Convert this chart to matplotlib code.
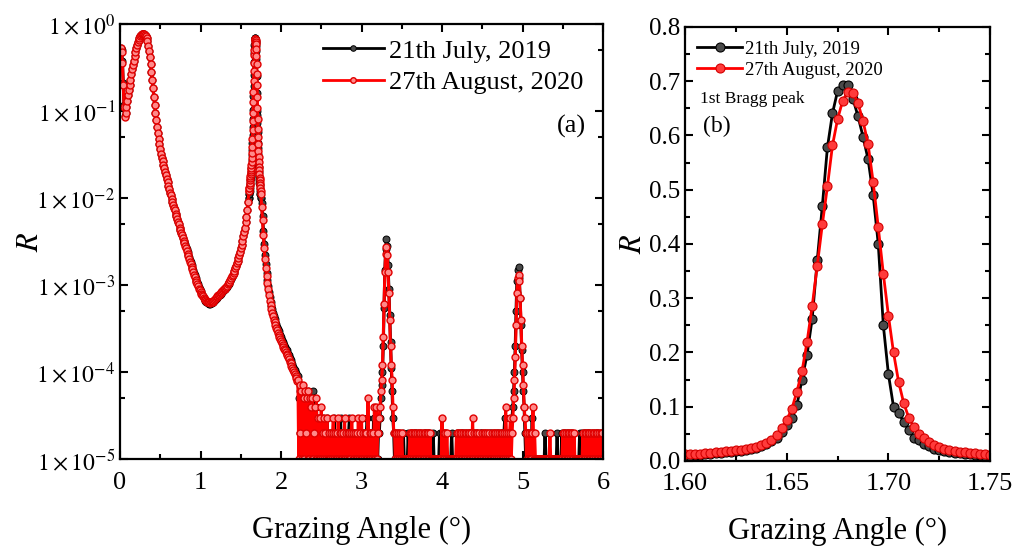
import numpy as np
import matplotlib
matplotlib.use('Agg')
import matplotlib.pyplot as plt
from matplotlib.ticker import MultipleLocator, LogLocator, FuncFormatter, NullFormatter

plt.rcParams['font.family'] = ['Liberation Serif', 'DejaVu Serif']
plt.rcParams['mathtext.fontset'] = 'stix'

labels = ['21th July, 2019', '27th August, 2020']

# ---- low angle part, 0.00 .. 1.59 deg (step 0.01), log10(R)
low_angle = np.round(np.arange(160) * 0.01, 2)
low_log_2020 = [
    -0.30, -0.28, -0.32, -0.45, -0.70, -0.95, -1.07, -1.02, -0.95, -0.88,
    -0.82, -0.76, -0.70, -0.64, -0.58, -0.52, -0.47, -0.42, -0.37, -0.32,
    -0.28, -0.24, -0.21, -0.18, -0.16, -0.14, -0.13, -0.12, -0.115, -0.11,
    -0.115, -0.125, -0.14, -0.16, -0.20, -0.25, -0.31, -0.38, -0.46, -0.55,
    -0.64, -0.74, -0.84, -0.93, -1.02, -1.10, -1.18, -1.25, -1.32, -1.38,
    -1.44, -1.49, -1.54, -1.58, -1.62, -1.66, -1.70, -1.74, -1.78, -1.82,
    -1.86, -1.90, -1.94, -1.97, -2.01, -2.04, -2.08, -2.11, -2.14, -2.18,
    -2.21, -2.24, -2.27, -2.30, -2.34, -2.37, -2.40, -2.43, -2.46, -2.49,
    -2.52, -2.55, -2.58, -2.61, -2.64, -2.67, -2.70, -2.73, -2.76, -2.79,
    -2.82, -2.85, -2.88, -2.91, -2.94, -2.97, -2.99, -3.01, -3.04, -3.06,
    -3.08, -3.10, -3.12, -3.13, -3.15, -3.16, -3.17, -3.18, -3.19, -3.19,
    -3.20, -3.20, -3.21, -3.20, -3.19, -3.19, -3.18, -3.17, -3.16, -3.15,
    -3.14, -3.13, -3.12, -3.11, -3.10, -3.09, -3.08, -3.07, -3.06, -3.05,
    -3.04, -3.03, -3.02, -3.01, -2.99, -2.98, -2.96, -2.94, -2.92, -2.90,
    -2.88, -2.86, -2.84, -2.81, -2.78, -2.75, -2.72, -2.69, -2.65, -2.62,
    -2.58, -2.54, -2.49, -2.44, -2.39, -2.34, -2.28, -2.22, -2.14, -2.04,
]
low_log_2019 = [
    -0.30, -0.27, -0.30, -0.43, -0.68, -0.93, -1.06, -1.02, -0.95, -0.88,
    -0.82, -0.76, -0.70, -0.64, -0.58, -0.52, -0.47, -0.42, -0.37, -0.32,
    -0.28, -0.24, -0.21, -0.18, -0.16, -0.14, -0.13, -0.12, -0.115, -0.11,
    -0.115, -0.125, -0.14, -0.16, -0.20, -0.25, -0.31, -0.38, -0.46, -0.55,
    -0.64, -0.74, -0.84, -0.93, -1.02, -1.10, -1.18, -1.25, -1.32, -1.38,
    -1.44, -1.49, -1.54, -1.58, -1.62, -1.66, -1.70, -1.74, -1.78, -1.82,
    -1.86, -1.90, -1.94, -1.97, -2.01, -2.04, -2.08, -2.11, -2.14, -2.18,
    -2.21, -2.24, -2.27, -2.30, -2.34, -2.37, -2.40, -2.43, -2.46, -2.49,
    -2.50, -2.53, -2.56, -2.59, -2.62, -2.65, -2.68, -2.71, -2.74, -2.77,
    -2.80, -2.83, -2.86, -2.89, -2.92, -2.95, -2.97, -2.99, -3.02, -3.04,
    -3.07, -3.09, -3.11, -3.13, -3.15, -3.17, -3.18, -3.19, -3.20, -3.21,
    -3.21, -3.22, -3.22, -3.21, -3.21, -3.20, -3.19, -3.18, -3.17, -3.16,
    -3.15, -3.14, -3.13, -3.12, -3.11, -3.10, -3.09, -3.08, -3.07, -3.06,
    -3.05, -3.04, -3.03, -3.02, -3.00, -2.99, -2.97, -2.95, -2.93, -2.91,
    -2.88, -2.86, -2.84, -2.81, -2.78, -2.75, -2.72, -2.69, -2.65, -2.62,
    -2.58, -2.54, -2.49, -2.44, -2.39, -2.34, -2.28, -2.22, -2.14, -2.04,
]

# ---- 1st Bragg peak, 1.600 .. 1.750 deg (step 0.0025), R
bragg_angle = np.linspace(1.60, 1.75, 61)
bragg_2020 = [
    0.012, 0.012, 0.013, 0.013, 0.014, 0.015, 0.016, 0.017, 0.018, 0.019,
    0.020, 0.021, 0.022, 0.024, 0.026, 0.029, 0.033, 0.039, 0.048, 0.060,
    0.076, 0.096, 0.128, 0.165, 0.220, 0.285, 0.360, 0.436, 0.506, 0.582,
    0.630, 0.664, 0.680, 0.678, 0.660, 0.627, 0.584, 0.514, 0.431, 0.345,
    0.268, 0.200, 0.146, 0.107, 0.080, 0.062, 0.050, 0.042, 0.035, 0.030,
    0.026, 0.023, 0.021, 0.019, 0.017, 0.016, 0.015, 0.014, 0.013, 0.012,
    0.011,
]
bragg_2019 = [
    0.010, 0.010, 0.011, 0.011, 0.012, 0.013, 0.014, 0.015, 0.016, 0.017,
    0.018, 0.019, 0.020, 0.022, 0.024, 0.027, 0.031, 0.036, 0.043, 0.053,
    0.066, 0.080, 0.103, 0.150, 0.196, 0.262, 0.370, 0.470, 0.578, 0.641,
    0.682, 0.693, 0.693, 0.668, 0.636, 0.598, 0.556, 0.490, 0.400, 0.250,
    0.160, 0.100, 0.089, 0.072, 0.058, 0.043, 0.038, 0.032, 0.027, 0.023,
    0.020, 0.018, 0.016, 0.015, 0.014, 0.013, 0.012, 0.011, 0.011, 0.010,
    0.010,
]

# ---- tail after the peak, 1.76 .. 2.20 deg (step 0.01), log10(R)
tail_angle = np.round(1.76 + np.arange(45) * 0.01, 2)
tail_log_2020 = [
    -2.10, -2.25, -2.42, -2.57, -2.70, -2.80, -2.90, -2.98, -3.05, -3.12,
    -3.18, -3.23, -3.28, -3.32, -3.36, -3.40, -3.43, -3.46, -3.49, -3.52,
    -3.55, -3.57, -3.60, -3.62, -3.64, -3.67, -3.69, -3.71, -3.73, -3.75,
    -3.77, -3.79, -3.81, -3.83, -3.85, -3.88, -3.90, -3.93, -3.95, -3.98,
    -4.00, -4.02, -4.05, -4.07, -4.10,
]
tail_log_2019 = [
    -2.06, -2.21, -2.38, -2.53, -2.66, -2.76, -2.86, -2.94, -3.01, -3.08,
    -3.14, -3.19, -3.24, -3.28, -3.32, -3.36, -3.39, -3.42, -3.45, -3.48,
    -3.51, -3.53, -3.56, -3.58, -3.60, -3.63, -3.65, -3.67, -3.69, -3.71,
    -3.73, -3.75, -3.77, -3.79, -3.81, -3.84, -3.86, -3.89, -3.91, -3.94,
    -3.96, -3.98, -4.01, -4.03, -4.06,
]

# ---- high angle part, 2.21 .. 6.00 deg (step 0.01), counts of 1e-5
high_angle = np.round(2.21 + np.arange(380) * 0.01, 2)
high_counts_2020 = [
    8, 1, 7, 2, 6, 1, 7, 5, 1, 6, 2, 5, 1, 6, 1, 5, 4, 1, 5, 1,              # 2.21
    2, 4, 1, 5, 1, 3, 1, 3, 1, 4, 1, 2, 3, 1, 2, 1, 3, 1, 2, 1,              # 2.41
    1, 2, 1, 2, 3, 1, 2, 1, 2, 1, 3, 1, 2, 1, 2, 1, 2, 1, 3, 1,              # 2.61
    2, 1, 2, 1, 2, 1, 2, 3, 1, 2, 1, 2, 1, 2, 1, 3, 1, 2, 1, 3,              # 2.81
    1, 2, 1, 2, 1, 2, 1, 5, 1, 2, 1, 2, 1, 2, 1, 4, 1, 4, 1, 2,              # 3.01
    2, 3, 4, 6, 8, 12, 25, 60, 140, 230, 270, 220, 140, 80, 40, 20, 12, 8, 4, 2,  # 3.21
    2, 1, 2, 1, 2, 1, 1, 2, 1, 2, 1, 1, 1, 1, 1, 1, 1, 1, 1, 2,              # 3.41
    2, 1, 2, 1, 2, 1, 2, 1, 2, 1, 2, 1, 2, 1, 2, 1, 2, 1, 2, 1,              # 3.61
    2, 1, 2, 1, 2, 1, 1, 1, 1, 1, 1, 1, 1, 1, 1, 1, 1, 1, 1, 3,              # 3.81
    1, 2, 1, 2, 1, 2, 1, 1, 1, 1, 1, 1, 1, 1, 1, 1, 1, 2, 1, 2,              # 4.01
    1, 2, 1, 2, 1, 2, 1, 2, 1, 2, 1, 2, 1, 2, 1, 2, 1, 3, 1, 2,              # 4.21
    1, 2, 1, 2, 1, 2, 1, 1, 1, 2, 1, 2, 1, 2, 1, 2, 1, 2, 1, 1,              # 4.41
    1, 2, 1, 2, 1, 2, 1, 2, 1, 1, 2, 1, 2, 1, 2, 1, 2, 1, 4, 2,              # 4.61
    1, 2, 1, 2, 3, 1, 2, 3, 5, 8, 15, 35, 80, 120, 130, 110, 70, 40, 20, 12,  # 4.81
    7, 4, 3, 2, 1, 2, 1, 2, 1, 2, 1, 2, 4, 1, 2, 1, 1, 1, 1, 1,              # 5.01
    1, 1, 1, 1, 1, 1, 1, 1, 1, 1, 1, 1, 1, 2, 1, 1, 1, 1, 1, 1,              # 5.21
    1, 1, 1, 1, 1, 1, 1, 1, 1, 2, 1, 2, 1, 2, 1, 2, 1, 2, 1, 2,              # 5.41
    1, 2, 1, 2, 1, 1, 1, 1, 1, 1, 1, 1, 1, 1, 2, 1, 2, 1, 2, 1,              # 5.61
    2, 1, 2, 1, 2, 1, 2, 1, 2, 1, 2, 1, 2, 1, 2, 1, 2, 1, 2, 1,              # 5.81
]
high_counts_2019 = [
    9, 5, 2, 6, 7, 1, 5, 6, 2, 4, 5, 4, 2, 6, 3, 1, 4, 3, 2, 6,
    1, 3, 2, 4, 1, 2, 3, 2, 1, 2, 1, 3, 1, 2, 2, 1, 3, 1, 2, 1,
    1, 2, 2, 1, 2, 3, 1, 2, 1, 2, 2, 1, 2, 3, 1, 2, 2, 1, 2, 1,
    2, 2, 1, 2, 3, 1, 2, 1, 2, 1, 2, 1, 2, 2, 1, 2, 1, 2, 1, 2,
    1, 2, 1, 2, 1, 2, 3, 2, 1, 2, 2, 1, 2, 1, 3, 2, 1, 2, 2, 1,
    2, 2, 3, 5, 7, 10, 20, 55, 150, 260, 340, 280, 170, 90, 45, 22, 11, 6, 3, 2,
    1, 1, 1, 2, 1, 1, 2, 1, 1, 1, 1, 2, 1, 1, 1, 1, 1, 2, 1, 1,
    1, 2, 1, 2, 1, 2, 2, 1, 2, 1, 1, 2, 1, 2, 1, 1, 2, 1, 2, 2,
    1, 2, 1, 2, 1, 1, 1, 1, 2, 1, 1, 1, 1, 1, 1, 1, 2, 1, 1, 2,
    1, 2, 1, 1, 2, 1, 1, 1, 1, 1, 1, 2, 1, 1, 1, 1, 1, 1, 2, 1,
    2, 1, 2, 1, 2, 2, 1, 2, 1, 1, 2, 1, 2, 1, 2, 2, 1, 2, 1, 2,
    1, 2, 1, 2, 1, 1, 2, 1, 2, 2, 1, 2, 1, 1, 2, 1, 2, 1, 2, 1,
    2, 1, 2, 1, 1, 2, 1, 2, 2, 1, 1, 2, 1, 2, 2, 1, 2, 3, 1, 2,
    2, 1, 2, 2, 1, 2, 3, 4, 6, 10, 20, 50, 110, 150, 160, 120, 70, 35, 18, 10,
    6, 4, 2, 1, 2, 1, 2, 1, 2, 2, 1, 3, 1, 2, 1, 1, 1, 1, 1, 1,
    1, 1, 1, 1, 1, 1, 1, 2, 1, 1, 1, 1, 1, 1, 1, 1, 1, 1, 1, 1,
    1, 1, 2, 1, 1, 1, 1, 1, 2, 1, 2, 1, 2, 1, 2, 1, 2, 1, 2, 1,
    1, 2, 1, 1, 1, 1, 1, 1, 1, 1, 2, 1, 1, 2, 1, 2, 1, 2, 1, 2,
    2, 1, 2, 1, 2, 1, 1, 2, 1, 2, 1, 2, 2, 1, 2, 1, 2, 1, 2, 1,
]


def full_curve(low_log, bragg, tail_log, counts):
    x = np.concatenate([low_angle, bragg_angle, tail_angle, high_angle])
    r = np.concatenate([10.0 ** np.array(low_log), np.array(bragg),
                        10.0 ** np.array(tail_log), np.array(counts) * 1e-5])
    return x, r


x19, r19 = full_curve(low_log_2019, bragg_2019, tail_log_2019, high_counts_2019)
x20, r20 = full_curve(low_log_2020, bragg_2020, tail_log_2020, high_counts_2020)

fig = plt.figure(figsize=(10.24, 5.46), dpi=100)
ax1 = fig.add_axes([0.1172, 0.1593, 0.4717, 0.7967])
ax2 = fig.add_axes([0.669, 0.1557, 0.2979, 0.7949])

black_style = dict(color='black', marker='o', mfc='#4a4a4a', mec='black')
red_style = dict(color='red', marker='o', mfc='#ff8a8a', mec='#e00000')

# (a) full scan, log scale
ax1.plot(x19, r19, lw=2.2, ms=5, mew=0.7, label=labels[0], **black_style)
ax1.plot(x20, r20, lw=2.2, ms=5, mew=1.0, label=labels[1], **red_style)
ax1.set_yscale('log')
ax1.set_xlim(0, 6)
ax1.set_ylim(1e-5, 1)
ax1.xaxis.set_major_locator(MultipleLocator(1))
ax1.xaxis.set_minor_locator(MultipleLocator(0.5))
ax1.yaxis.set_major_locator(LogLocator(base=10, numticks=10))
ax1.yaxis.set_minor_locator(LogLocator(base=10, subs=[5], numticks=10))
ax1.yaxis.set_minor_formatter(NullFormatter())
ax1.yaxis.set_major_formatter(FuncFormatter(
    lambda v, p: r'$1\times10^{%d}$' % int(round(np.log10(v)))))
ax1.tick_params(axis='y', labelsize=17)
ax1.set_ylabel('$R$', fontsize=22)
ax1.yaxis.set_label_coords(-0.155, 0.5)
leg1 = ax1.legend(loc='upper left', bbox_to_anchor=(0.42, 0.965), frameon=False,
                  fontsize=19, handlelength=2.3, handletextpad=0.2,
                  labelspacing=0.3, borderpad=0, borderaxespad=0)
for h in leg1.legend_handles:
    h.set_markersize(4)
    h.set_linewidth(2)
ax1.text(0.965, 0.765, '(a)', transform=ax1.transAxes, fontsize=19,
         ha='right', va='center')

# (b) 1st Bragg peak, linear scale
ax2.plot(bragg_angle, bragg_2019, lw=2, ms=6.5, mew=0.8, label=labels[0], **black_style)
ax2.plot(bragg_angle, bragg_2020, lw=2, ms=6.5, mew=0.8, label=labels[1],
         color='red', marker='o', mfc='#ff3b3b', mec='#d40000')
ax2.set_xlim(1.60, 1.75)
ax2.set_ylim(0, 0.8)
ax2.xaxis.set_major_locator(MultipleLocator(0.05))
ax2.xaxis.set_minor_locator(MultipleLocator(0.025))
ax2.yaxis.set_major_locator(MultipleLocator(0.1))
ax2.yaxis.set_minor_locator(MultipleLocator(0.05))
ax2.xaxis.set_major_formatter(FuncFormatter(lambda v, p: '%.2f' % v))
ax2.yaxis.set_major_formatter(FuncFormatter(lambda v, p: '%.1f' % v))
ax2.tick_params(axis='y', labelsize=18)
ax2.set_ylabel('$R$', fontsize=22)
ax2.yaxis.set_label_coords(-0.12, 0.5)
ax2.legend(loc='upper left', bbox_to_anchor=(0.04, 0.968), frameon=False,
           fontsize=13.5, handlelength=2.4, handletextpad=0.15,
           labelspacing=0.2, borderpad=0, borderaxespad=0)
ax2.text(0.05, 0.835, '1st Bragg peak', transform=ax2.transAxes, fontsize=12.5,
         ha='left', va='center')
ax2.text(0.06, 0.77, '(b)', transform=ax2.transAxes, fontsize=17,
         ha='left', va='center')

for ax in (ax1, ax2):
    ax.tick_params(which='both', direction='in', top=True, right=True, width=1.5)
    ax.tick_params(which='major', length=6)
    ax.tick_params(which='minor', length=3.5)
    ax.tick_params(axis='x', labelsize=19, pad=9)
    for s in ax.spines.values():
        s.set_linewidth(1.6)
    ax.set_xlabel('Grazing Angle (°)', fontsize=22)
    ax.xaxis.set_label_coords(0.5, -0.13)

fig.savefig('out.png', dpi=100)
